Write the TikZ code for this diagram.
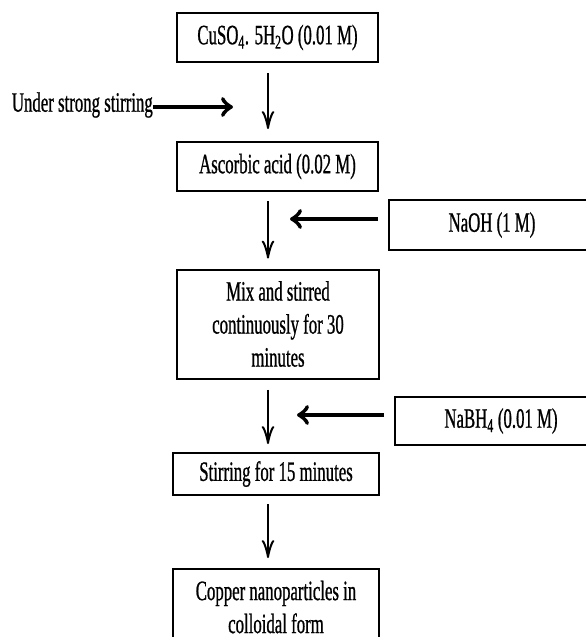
\documentclass[tikz,border=0pt]{standalone}
\usepackage{fontspec}
\setmainfont{Liberation Serif}[FakeStretch=0.6,FakeBold=0.8]
\usetikzlibrary{arrows.meta}
\begin{document}
\begin{tikzpicture}[x=1pt,y=-1pt,
  box/.style={draw,line width=2pt,inner sep=0pt,align=center,
    font=\fontsize{28pt}{33pt}\selectfont},
  thinarrow/.style={line width=2pt,-{Classical TikZ Rightarrow[length=18pt,width=13pt,line width=2pt]}},
  thickarrow/.style={line width=4.5pt,-{Classical TikZ Rightarrow[length=12pt,width=20pt,line width=3.5pt]}},
  lbl/.style={inner sep=0pt,font=\fontsize{28pt}{33pt}\selectfont}]
\useasboundingbox (0,0) rectangle (586,637);
\clip (0,0) rectangle (586,637);
\node[box,minimum width=201pt,minimum height=49pt] (b1) at (277.5,37.5) {CuSO\textsubscript{4}. 5H\textsubscript{2}O (0.01 M)};
\node[box,minimum width=201pt,minimum height=49pt] (b2) at (277.5,166.5) {Ascorbic acid (0.02 M)};
\node[box,minimum width=202pt,minimum height=109pt] (b3) at (278,324) {Mix and stirred\\continuously for 30\\minutes};
\node[box,minimum width=206pt,minimum height=42pt] (b4) at (276,474) {Stirring for 15 minutes};
\node[box,minimum width=206pt,minimum height=76pt] (b5) at (276,607) {Copper nanoparticles in\\colloidal form};
\node[box,minimum width=206pt,minimum height=50pt] (naoh) at (492,225) {NaOH (1 M)};
\node[box,minimum width=212pt,minimum height=48pt] (nabh) at (501,421) {NaBH\textsubscript{4} (0.01 M)};
\node[lbl,anchor=east] (stir) at (153,105) {Under strong stirring};
\coordinate (stirend) at (233,107);
\coordinate (naohend) at (290,219);
\coordinate (nabhend) at (297,415);
\draw[thinarrow] ([xshift=-9.5pt,yshift=-10pt]b1.south) -- ([xshift=-9.5pt,yshift=12pt]b2.north);
\draw[thinarrow] ([xshift=-9.5pt,yshift=-9pt]b2.south) -- ([xshift=-10pt,yshift=10pt]b3.north);
\draw[thinarrow] ([xshift=-10pt,yshift=-10pt]b3.south) -- ([xshift=-8pt,yshift=8pt]b4.north);
\draw[thinarrow] ([xshift=-8pt,yshift=-8pt]b4.south) -- ([xshift=-8pt,yshift=10pt]b5.north);
\draw[thickarrow] (stir.east |- stirend) -- (stirend);
\draw[thickarrow] ([xshift=-10pt,yshift=6pt]naoh.west) -- (naohend);
\draw[thickarrow] ([xshift=-10pt,yshift=6pt]nabh.west) -- (nabhend);
\end{tikzpicture}
\end{document}
